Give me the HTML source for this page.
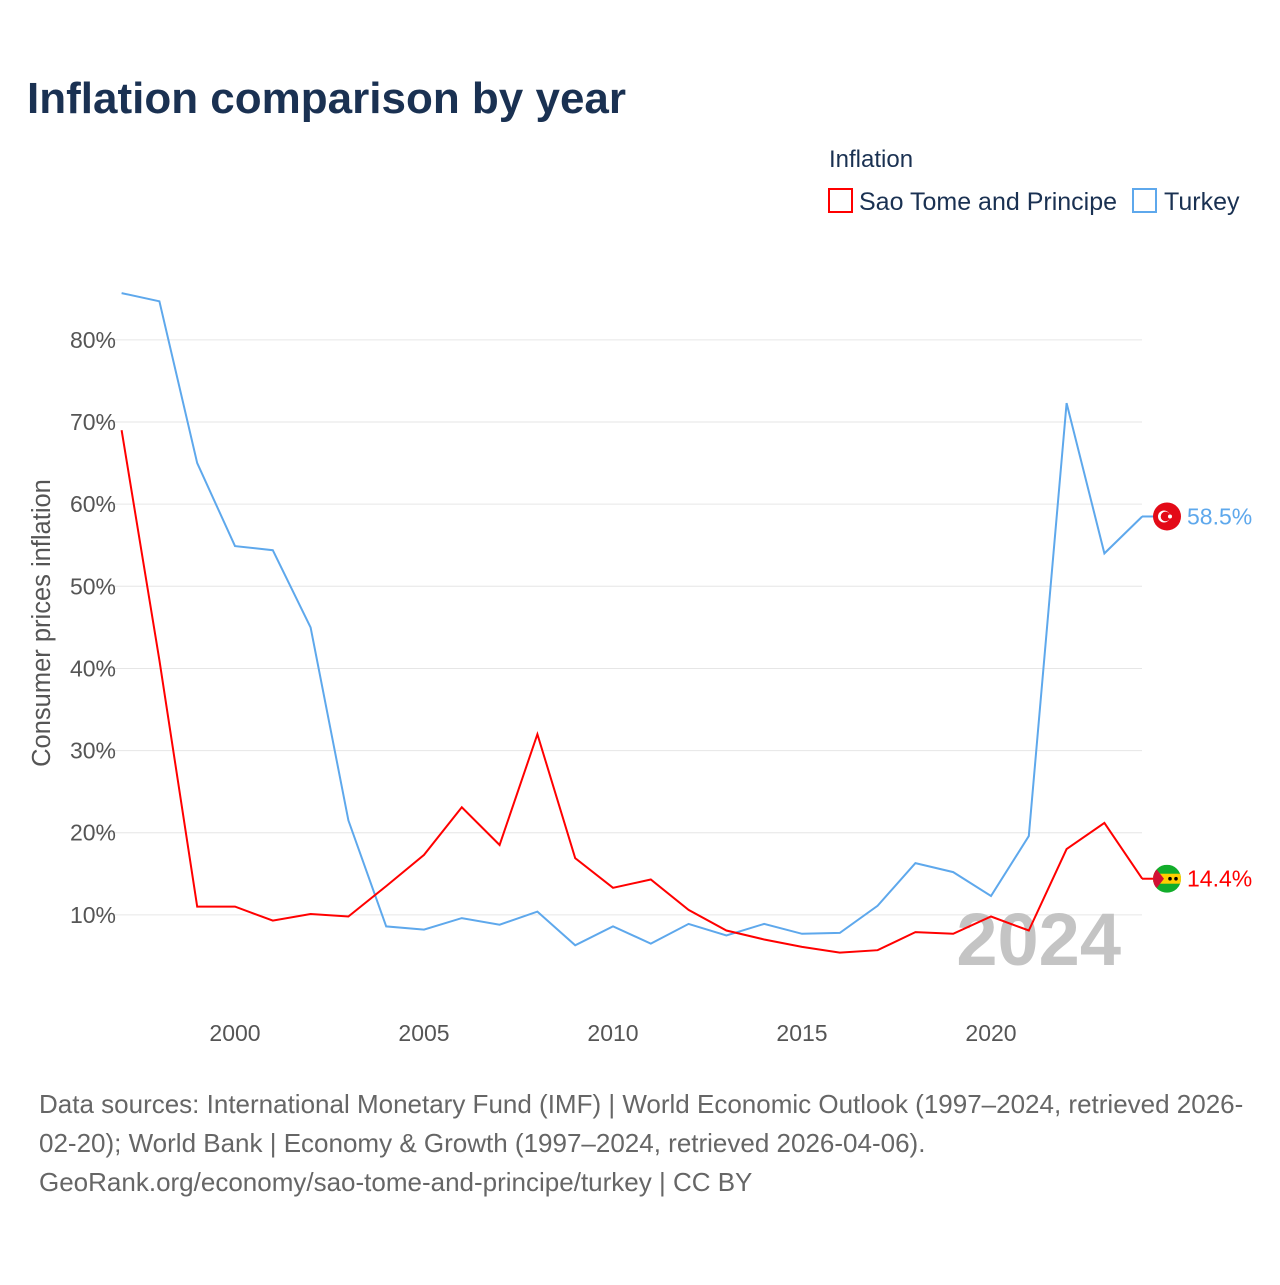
<!DOCTYPE html>
<html><head><meta charset="utf-8">
<style>
body{margin:0;background:#fff;width:1280px;height:1280px;overflow:hidden;font-family:"Liberation Sans",sans-serif;}
svg text{font-family:"Liberation Sans",sans-serif;}
</style></head>
<body>
<svg id="chart" width="1280" height="1280">
<text x="27" y="113" font-size="44" font-weight="bold" fill="#1a3152">Inflation comparison by year</text>
<g>
<text x="829" y="167" font-size="24" fill="#1a3152">Inflation</text>
<rect x="829" y="189" width="23" height="23" fill="none" stroke="#f00" stroke-width="2"/>
<text x="859" y="210" font-size="25" fill="#1a3152">Sao Tome and Principe</text>
<rect x="1133" y="189" width="23" height="23" fill="none" stroke="#5ea8ec" stroke-width="2"/>
<text x="1164" y="210" font-size="25" fill="#1a3152">Turkey</text>
</g>
<g id="grid"></g>
<g id="yticks"></g>
<g id="xticks"></g>
<text transform="translate(50,623) rotate(-90)" text-anchor="middle" font-size="25.5" fill="#555">Consumer prices inflation</text>
<text x="1121" y="965" text-anchor="end" font-size="74" font-weight="bold" fill="#c4c4c4">2024</text>
<g id="series"></g>
<g font-size="26" fill="#666">
<text x="39" y="1113">Data sources: International Monetary Fund (IMF) | World Economic Outlook (1997–2024, retrieved 2026-</text>
<text x="39" y="1152">02-20); World Bank | Economy &amp; Growth (1997–2024, retrieved 2026-04-06).</text>
<text x="39" y="1191">GeoRank.org/economy/sao-tome-and-principe/turkey | CC BY</text>
</g>
</svg>
<script>
const years=[1997,1998,1999,2000,2001,2002,2003,2004,2005,2006,2007,2008,2009,2010,2011,2012,2013,2014,2015,2016,2017,2018,2019,2020,2021,2022,2023,2024];
const turkey=[85.7,84.7,65.0,54.9,54.4,45.0,21.5,8.6,8.2,9.6,8.8,10.4,6.3,8.6,6.5,8.9,7.5,8.9,7.7,7.8,11.1,16.3,15.2,12.3,19.6,72.3,54.0,58.5];
const stp=[69.0,41.0,11.0,11.0,9.3,10.1,9.8,13.5,17.3,23.1,18.5,32.0,16.9,13.3,14.3,10.6,8.1,7.0,6.1,5.4,5.7,7.9,7.7,9.8,8.1,18.0,21.2,14.4];
const yTicks=[10,20,30,40,50,60,70,80];
const xTicks=[2000,2005,2010,2015,2020];
const NS='http://www.w3.org/2000/svg';
const X=y=>235+(y-2000)*37.8;
const Y=v=>997-v*8.214;
function mk(t,a,p){const e=document.createElementNS(NS,t);for(const k in a)e.setAttribute(k,a[k]);p.appendChild(e);return e;}
const grid=document.getElementById('grid'),yt=document.getElementById('yticks'),xt=document.getElementById('xticks'),ser=document.getElementById('series');
yTicks.forEach(v=>{
 const l=mk('line',{x1:95,x2:1142,y1:Y(v),y2:Y(v),stroke:'#e6e6e6','stroke-width':1},grid);
 
 
 const t=mk('text',{x:116,y:Y(v)+8,'text-anchor':'end','font-size':23,fill:'#555'},yt);
 t.textContent=v+'%';
 
 
});
xTicks.forEach(v=>{
 const t=mk('text',{x:X(v),y:1041,'text-anchor':'middle','font-size':23,fill:'#555'},xt);
 t.textContent=v;
 
 
});
function drawLine(vals,color,name){
 const d=vals.map((v,i)=>(i?'L':'M')+X(years[i]).toFixed(1)+' '+Y(v).toFixed(1)).join(' ');
 const p=mk('path',{d:d,fill:'none',stroke:color,'stroke-width':2},ser);
 
 
 const last=vals[vals.length-1],ly=Y(last);
 mk('line',{x1:1142,x2:1155,y1:ly,y2:ly,stroke:color,'stroke-width':2},ser);
 const t=mk('text',{x:1187,y:ly+8,'font-size':23,fill:color},ser);
 t.textContent=last.toFixed(1)+'%';
 
 
 return ly;
}
const ty=drawLine(turkey,'#5ea8ec','turkey');
const sy=drawLine(stp,'#f00','stp');
const tf=mk('g',{},ser);


mk('circle',{cx:1167,cy:ty,r:14,fill:'#e30a17'},tf);
mk('circle',{cx:1164,cy:ty,r:6,fill:'#fff'},tf);
mk('circle',{cx:1165.5,cy:ty,r:4.8,fill:'#e30a17'},tf);
mk('circle',{cx:1170,cy:ty,r:2,fill:'#fff'},tf);
const sf=mk('g',{},ser);


const cp=mk('clipPath',{id:'stpc'},sf);
mk('circle',{cx:1167,cy:sy,r:14},cp);
const g=mk('g',{'clip-path':'url(#stpc)'},sf);
mk('rect',{x:1153,y:sy-14,width:28,height:28,fill:'#12ad2b'},g);
mk('rect',{x:1153,y:sy-5,width:28,height:10,fill:'#ffce00'},g);
mk('path',{d:`M1153 ${sy-14} L1164 ${sy} L1153 ${sy+14} Z`,fill:'#d21034'},g);
mk('circle',{cx:1170,cy:sy,r:1.8,fill:'#000'},g);
mk('circle',{cx:1176,cy:sy,r:1.8,fill:'#000'},g);
</script>
</body></html>
